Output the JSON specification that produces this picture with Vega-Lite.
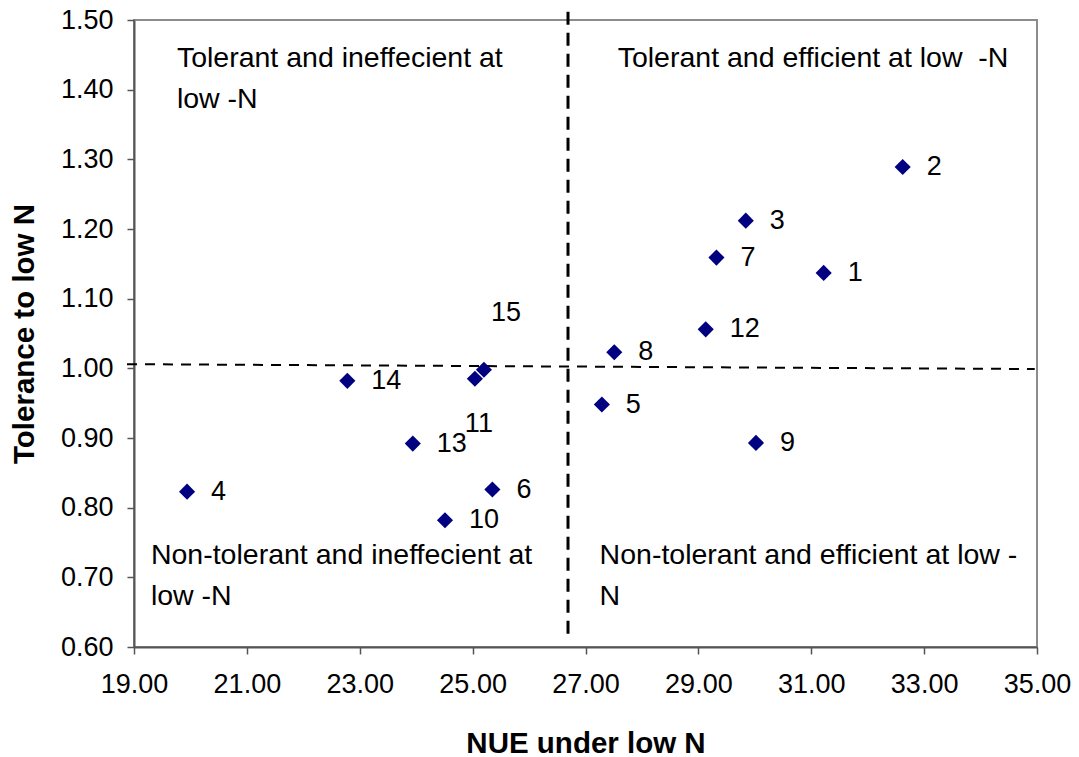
{
  "$schema": "https://vega.github.io/schema/vega-lite/v6.json",
  "width": 903,
  "height": 627,
  "autosize": {"type": "none"},
  "padding": {"left": 134, "top": 20, "right": 42, "bottom": 110},
  "background": "white",
  "config": {
    "font": "Liberation Sans",
    "view": {"stroke": "#8c8c8c", "strokeWidth": 2},
    "axis": {
      "grid": false,
      "domainColor": "#555555",
      "domainWidth": 2,
      "tickColor": "#555555",
      "tickWidth": 1.5,
      "tickSize": 7,
      "labelFont": "Liberation Sans",
      "labelFontSize": 27,
      "labelColor": "#000000",
      "labelFlush": false,
      "labelOverlap": false,
      "titleFont": "Liberation Sans",
      "titleFontSize": 29.5,
      "titleFontWeight": "bold",
      "titleColor": "#000000"
    }
  },
  "datasets": {
    "pts": [
      {"x": 31.22, "y": 1.137, "id": "1"},
      {"x": 32.62, "y": 1.289, "id": "2"},
      {"x": 29.84, "y": 1.212, "id": "3"},
      {"x": 19.94, "y": 0.823, "id": "4"},
      {"x": 27.29, "y": 0.948, "id": "5"},
      {"x": 25.35, "y": 0.826, "id": "6"},
      {"x": 29.32, "y": 1.159, "id": "7"},
      {"x": 27.51, "y": 1.023, "id": "8"},
      {"x": 30.02, "y": 0.893, "id": "9"},
      {"x": 24.51, "y": 0.782, "id": "10"},
      {"x": 25.04, "y": 0.985, "id": "11"},
      {"x": 29.13, "y": 1.056, "id": "12"},
      {"x": 23.94, "y": 0.892, "id": "13"},
      {"x": 22.78, "y": 0.982, "id": "14"},
      {"x": 25.2, "y": 0.998, "id": "15"}
    ],
    "guides": [
      {"x": 26.69, "y": 1.512, "g": "v"},
      {"x": 26.69, "y": 0.617, "g": "v"},
      {"x": 18.876, "y": 1.006, "g": "h"},
      {"x": 34.96, "y": 0.999, "g": "h"}
    ],
    "notes": [
      {"x": 19.76, "y": 1.4656, "t": "Tolerant and ineffecient at\nlow -N"},
      {"x": 27.57, "y": 1.4656, "t": "Tolerant and efficient at low \u00a0-N"},
      {"x": 19.3, "y": 0.7515, "t": "Non-tolerant and ineffecient at\nlow -N"},
      {"x": 27.25, "y": 0.7515, "t": "Non-tolerant and efficient at low -\nN"}
    ]
  },
  "encoding": {
    "x": {
      "field": "x",
      "type": "quantitative",
      "scale": {"domain": [19, 35], "nice": false, "zero": false},
      "axis": {
        "values": [19, 21, 23, 25, 27, 29, 31, 33, 35],
        "format": ".2f",
        "labelPadding": 17,
        "title": "NUE under low N",
        "titleY": 105,
        "titleBaseline": "alphabetic"
      }
    },
    "y": {
      "field": "y",
      "type": "quantitative",
      "scale": {"domain": [0.6, 1.5], "nice": false, "zero": false},
      "axis": {
        "values": [0.6, 0.7, 0.8, 0.9, 1.0, 1.1, 1.2, 1.3, 1.4, 1.5],
        "format": ".2f",
        "labelPadding": 14,
        "title": "Tolerance to low N",
        "titleX": -101,
        "titleY": 313.5,
        "titleBaseline": "alphabetic"
      }
    }
  },
  "layer": [
    {
      "data": {"name": "guides"},
      "transform": [{"filter": "datum.g == 'v'"}],
      "mark": {"type": "line", "color": "#000000", "strokeWidth": 3, "strokeDash": [13, 8]},
      "encoding": {"detail": {"field": "g"}}
    },
    {
      "data": {"name": "guides"},
      "transform": [{"filter": "datum.g == 'h'"}],
      "mark": {"type": "line", "color": "#000000", "strokeWidth": 2, "strokeDash": [10, 8]},
      "encoding": {"detail": {"field": "g"}}
    },
    {
      "data": {"name": "pts"},
      "mark": {"type": "point", "shape": "diamond", "filled": true, "color": "#000080", "size": 260, "opacity": 1}
    },
    {
      "data": {"name": "pts"},
      "transform": [{"filter": "datum.id != '11' && datum.id != '15'"}],
      "mark": {"type": "text", "align": "left", "baseline": "middle", "dx": 24, "fontSize": 27, "color": "#000000"},
      "encoding": {"text": {"field": "id"}}
    },
    {
      "data": {"name": "pts"},
      "transform": [{"filter": "datum.id == '11'"}],
      "mark": {"type": "text", "align": "center", "baseline": "middle", "dx": 4, "dy": 45, "fontSize": 27, "color": "#000000"},
      "encoding": {"text": {"field": "id"}}
    },
    {
      "data": {"name": "pts"},
      "transform": [{"filter": "datum.id == '15'"}],
      "mark": {"type": "text", "align": "center", "baseline": "middle", "dx": 22, "dy": -57, "fontSize": 27, "color": "#000000"},
      "encoding": {"text": {"field": "id"}}
    },
    {
      "data": {"name": "notes"},
      "mark": {"type": "text", "align": "left", "baseline": "top", "fontSize": 28.5, "lineBreak": "\n", "lineHeight": 41, "color": "#000000"},
      "encoding": {"text": {"field": "t"}}
    }
  ]
}
